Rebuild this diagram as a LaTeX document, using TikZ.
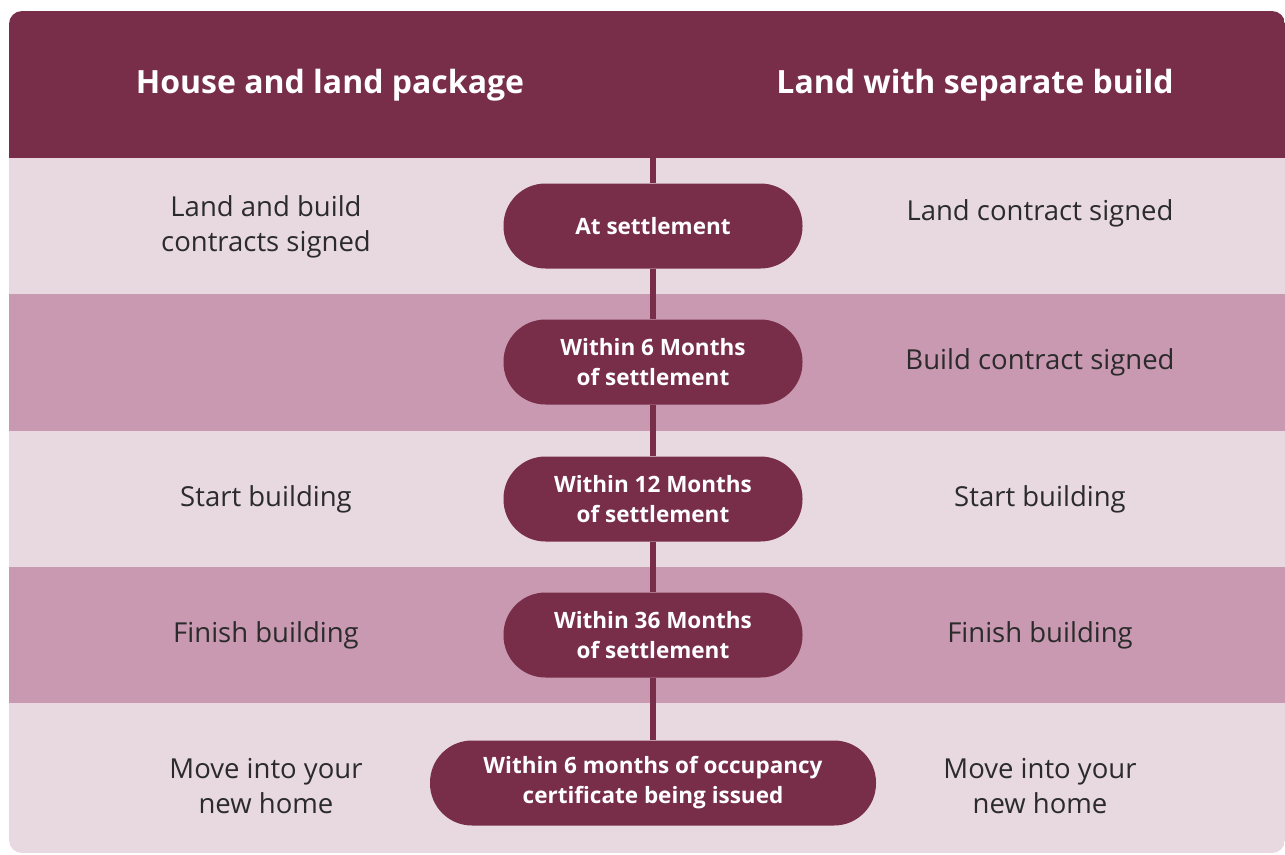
\documentclass[tikz,border=0pt]{standalone}
\usepackage{fontspec}
\setmainfont{Open Sans}
\definecolor{dark}{HTML}{782D48}
\definecolor{lightrow}{HTML}{E8D9E0}
\definecolor{midrow}{HTML}{C899B1}
\definecolor{txt}{HTML}{2B2B2B}
\begin{document}
\begin{tikzpicture}[x=1pt,y=-1pt,
  hdrtext/.style={text=white,font=\fontsize{32}{36}\selectfont\bfseries,anchor=center},
  bodytext/.style={text=txt,font=\fontsize{27.5}{35}\selectfont,align=center,anchor=center},
  pill/.style={fill=dark,rounded corners=42pt,minimum width=299pt,minimum height=85pt,text=white,
     font=\fontsize{22.5}{30}\selectfont\bfseries,align=center,inner sep=0pt},
  tline/.style={draw=dark,line width=6pt}]
\useasboundingbox (0,0) rectangle (1285,854);
\begin{scope}
  \clip[rounded corners=13pt] (9,11) rectangle (1285,853);
  \fill[dark] (9,11) rectangle (1285,158);
  \fill[lightrow] (9,158) rectangle (1285,294);
  \fill[midrow] (9,294) rectangle (1285,431);
  \fill[lightrow] (9,431) rectangle (1285,567);
  \fill[midrow] (9,567) rectangle (1285,703);
  \fill[lightrow] (9,703) rectangle (1285,853);
\end{scope}
% header
\node[hdrtext] (hL) at (330,85) {House and land package};
\node[hdrtext] (hR) at (975,85) {Land with separate build};
% pills
\node[pill] (p1) at (653,226) {At settlement};
\node[pill] (p2) at (653,362) {Within 6 Months\\of settlement};
\node[pill] (p3) at (653,499) {Within 12 Months\\of settlement};
\node[pill] (p4) at (653,635) {Within 36 Months\\of settlement};
\node[pill,minimum width=446pt] (p5) at (653,783) {Within 6 months of occupancy\\certificate being issued};
% timeline
\coordinate (top) at (653,11);
\draw[tline] (top) -- (p1.north);
\draw[tline] (p1.south) -- (p2.north);
\draw[tline] (p2.south) -- (p3.north);
\draw[tline] (p3.south) -- (p4.north);
\draw[tline] (p4.south) -- (p5.north);
% left column
\node[bodytext] (l1) at (266,227) {Land and build\\contracts signed};
\node[bodytext] (l3) at (266,499) {Start building};
\node[bodytext] (l4) at (266,635) {Finish building};
\node[bodytext] (l5) at (266,786) {Move into your\\new home};
% right column
\node[bodytext] (r1) at (1040,213) {Land contract signed};
\node[bodytext] (r2) at (1040,362) {Build contract signed};
\node[bodytext] (r3) at (1040,499) {Start building};
\node[bodytext] (r4) at (1040,635) {Finish building};
\node[bodytext] (r5) at (1040,786) {Move into your\\new home};
\end{tikzpicture}
\end{document}
